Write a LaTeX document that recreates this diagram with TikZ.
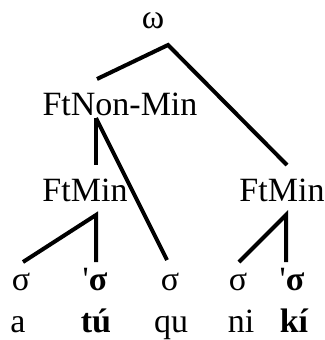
\documentclass[tikz,border=0pt]{standalone}
\usepackage{fontspec}
\setmainfont{Liberation Serif}
\usetikzlibrary{calc}

\begin{document}
\begin{tikzpicture}[
  x=1pt,y=-1pt,
  branch/.style={draw=black,line width=4pt},
  lab/.style={font=\fontsize{34}{40}\selectfont,anchor=base,inner sep=0pt},
  boldlab/.style={lab,font=\fontsize{34}{40}\selectfont\bfseries}
]
\useasboundingbox (0,0) rectangle (324,340);

% ---------------- rows ----------------
\def\yTop{28}
\def\yFoot{115}
\def\yMin{201}
\def\ySyl{290}
\def\yWord{332}

% ---------------- prosodic nodes ----------------
\node[lab] (pw)   at (153,\yTop)  {ω};
\node[lab] (ftnm) at (120,\yFoot) {FtNon-Min};
\node[lab] (ftl)  at (85,\yMin)   {FtMin};
\node[lab] (ftr)  at (282,\yMin)  {FtMin};

% ---------------- syllables ----------------
\node[lab] (s1) at (21,\ySyl)  {σ};
\node[lab] (s2) at (95,\ySyl)  {\textmd{\textquotesingle}\textbf{σ}};
\node[lab] (s3) at (170,\ySyl) {σ};
\node[lab] (s4) at (238,\ySyl) {σ};
\node[lab] (s5) at (292,\ySyl) {\textmd{\textquotesingle}\textbf{σ}};

% ---------------- segments ----------------
\node[lab]     (a)  at (18,\yWord)  {a};
\node[boldlab] (tu) at (96,\yWord)  {tú};
\node[lab]     (qu) at (171,\yWord) {qu};
\node[lab]     (ni) at (241,\yWord) {ni};
\node[boldlab] (ki) at (294,\yWord) {kí};

% branch points, taken from the labels
\coordinate (pw-b)   at ([shift={(15,17)}]pw.base);
\coordinate (ftnm-t) at ([shift={(-23,-36)}]ftnm.base);
\coordinate (ftnm-b) at ([shift={(-24,3)}]ftnm.base);
\coordinate (ftl-t)  at ([shift={(11,-36)}]ftl.base);
\coordinate (ftl-b)  at ([shift={(11,14)}]ftl.base);
\coordinate (ftr-t)  at ([shift={(5,-36)}]ftr.base);
\coordinate (ftr-b)  at ([shift={(4,14)}]ftr.base);
\coordinate (s1-t)   at ([shift={(2,-28)}]s1.base);
\coordinate (s2-t)   at ([shift={(1,-28)}]s2.base);
\coordinate (s3-t)   at ([shift={(-3,-30)}]s3.base);
\coordinate (s4-t)   at ([shift={(1,-28)}]s4.base);
\coordinate (s5-t)   at ([shift={(-6,-28)}]s5.base);

% ---------------- branches ----------------
\draw[branch] (ftnm-t) -- (pw-b) -- (ftr-t);
\draw[branch] (ftnm-b) -- (ftl-t);
\draw[branch] (ftnm-b) -- (s3-t);
\draw[branch] (s1-t) -- (ftl-b) -- (s2-t);
\draw[branch] (s4-t) -- (ftr-b) -- (s5-t);

\end{tikzpicture}
\end{document}
